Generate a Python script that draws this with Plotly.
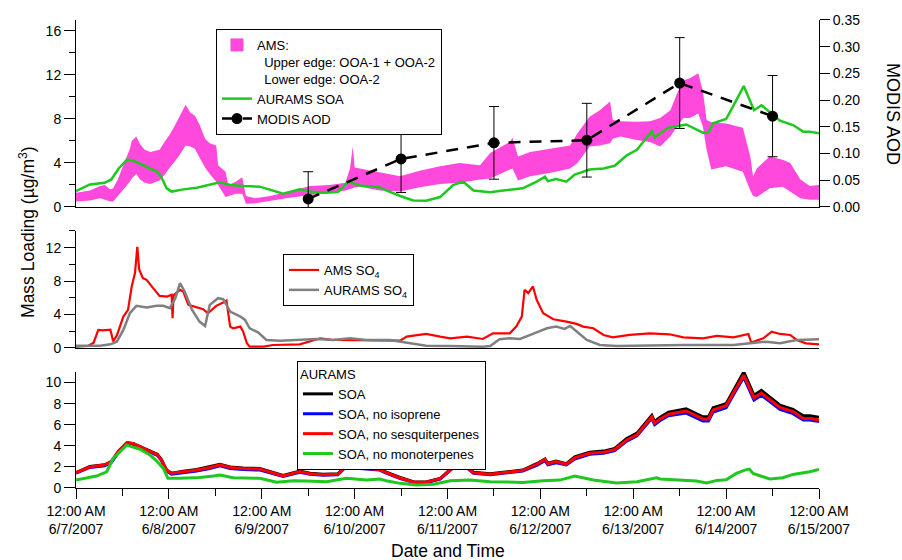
import plotly.graph_objects as go

# ---------------- data ----------------
tick_days = [0, 1, 2, 3, 4, 5, 6, 7, 8]
day_labels = ["6/7/2007", "6/8/2007", "6/9/2007", "6/10/2007", "6/11/2007",
              "6/12/2007", "6/13/2007", "6/14/2007", "6/15/2007"]

# AMS OOA band (days since 6/7/2007 00:00)
ams_day = [0.00, 0.15, 0.26, 0.31, 0.37, 0.40, 0.45, 0.53, 0.58, 0.60, 0.65, 0.69, 0.74, 0.80,
           0.90, 0.96, 1.01, 1.07, 1.12, 1.18, 1.23, 1.28, 1.33, 1.39, 1.44, 1.51, 1.53, 1.61,
           1.64, 1.72, 1.79, 1.83, 1.93, 2.09, 2.30, 2.52, 2.73, 2.90, 2.95, 2.98, 3.00, 3.06,
           3.27, 3.49, 3.70, 3.92, 4.13, 4.29, 4.35, 4.46, 4.67, 4.70, 4.76, 4.89, 5.10, 5.32,
           5.40, 5.53, 5.64, 5.75, 5.78, 5.86, 6.04, 6.18, 6.29, 6.40, 6.47, 6.54, 6.61, 6.70,
           6.75, 6.79, 6.84, 7.00, 7.18, 7.26, 7.29, 7.33, 7.47, 7.61, 7.69, 7.80, 7.90, 8.00]
ams_upper = [1.3, 1.5, 1.9, 2.0, 1.6, 1.7, 2.5, 4.3, 5.3, 6.0, 6.4, 5.7, 5.2, 5.0,
             5.2, 6.0, 6.6, 7.5, 8.3, 9.3, 8.6, 8.3, 7.5, 6.2, 5.8, 5.6, 3.8, 3.2,
             2.0, 2.3, 2.7, 1.0, 0.8, 1.0, 1.4, 1.9, 2.0, 2.2, 3.5, 5.5, 3.6, 3.5,
             3.1, 2.8, 3.3, 3.7, 4.0, 3.9, 3.8, 4.9, 5.9, 6.3, 4.6, 5.0, 5.3, 5.6,
             6.7, 8.2, 8.8, 9.6, 7.9, 7.8, 7.75, 7.8, 8.1, 8.8, 10.3, 11.5, 11.7, 12.15,
             10.5, 7.9, 7.7, 7.6, 7.2, 4.6, 2.8, 3.5, 4.6, 4.3, 4.0, 2.5, 1.9, 2.0]
ams_lower = [0.5, 0.6, 0.8, 0.7, 0.5, 0.5, 1.0, 1.8, 2.3, 2.6, 3.0, 2.5, 2.2, 2.1,
             2.4, 3.0, 3.6, 4.2, 4.8, 5.6, 5.5, 5.3, 4.5, 3.6, 3.0, 2.3, 2.0, 0.9,
             1.0, 1.2, 1.2, 0.3, 0.35, 0.6, 0.85, 1.1, 1.25, 1.5, 1.6, 1.7, 1.8, 1.85,
             1.5, 1.4, 1.8, 2.1, 2.2, 2.4, 2.5, 2.6, 3.4, 3.5, 2.4, 2.8, 3.1, 3.5,
             4.0, 5.5, 5.6, 5.8, 6.2, 6.4, 6.1, 5.9, 5.5, 6.4, 7.3, 8.1, 8.1, 8.5,
             7.3, 5.2, 3.4, 3.7, 3.2, 1.5, 1.0, 0.9, 1.7, 1.85, 1.4, 0.8, 0.65, 0.65]

# AURAMS SOA runs
soa_day = [0.00, 0.15, 0.31, 0.38, 0.46, 0.55, 0.62, 0.72, 0.83, 0.875, 0.92, 0.976, 1.03, 1.155,
           1.30, 1.44, 1.55, 1.66, 1.80, 1.98, 2.09, 2.23, 2.41, 2.52, 2.66, 2.82, 2.93, 3.06,
           3.27, 3.34, 3.49, 3.63, 3.77, 3.92, 4.06, 4.17, 4.28, 4.35, 4.46, 4.60, 4.81, 4.96,
           5.05, 5.08, 5.17, 5.28, 5.37, 5.53, 5.68, 5.80, 5.93, 6.04, 6.20, 6.23, 6.29, 6.38,
           6.57, 6.75, 6.81, 6.86, 7.00, 7.09, 7.19, 7.30, 7.38, 7.58, 7.72, 7.83, 7.90, 8.00]
soa = [1.45, 2.05, 2.2, 2.5, 3.5, 4.3, 4.2, 3.8, 3.35, 3.2, 2.7, 1.7, 1.4, 1.6,
       1.75, 2.0, 2.25, 2.0, 1.9, 1.85, 1.55, 1.2, 1.6, 1.4, 1.3, 1.35, 2.3, 1.95,
       1.8, 1.5, 1.0, 0.6, 0.57, 0.9, 2.0, 2.3, 1.5, 1.45, 1.35, 1.5, 1.7, 2.3,
       2.75, 2.35, 2.55, 2.3, 2.95, 3.4, 3.5, 3.75, 4.7, 5.2, 6.9, 6.3, 6.7, 7.2,
       7.5, 6.75, 6.75, 7.6, 8.0, 9.4, 11.0, 8.8, 9.25, 7.85, 7.45, 6.85, 6.85, 6.7]
soa_no_isoprene = [1.4, 1.95, 2.1, 2.4, 3.4, 4.2, 4.1, 3.7, 3.25, 3.1, 2.6, 1.6, 1.3, 1.45,
                   1.6, 1.85, 2.1, 1.85, 1.75, 1.7, 1.45, 1.1, 1.5, 1.3, 1.2, 1.25, 2.2, 1.85,
                   1.7, 1.4, 0.9, 0.55, 0.5, 0.85, 1.9, 2.2, 1.4, 1.35, 1.25, 1.4, 1.6, 2.15,
                   2.6, 2.2, 2.4, 2.2, 2.75, 3.2, 3.3, 3.55, 4.45, 4.95, 6.6, 6.0, 6.4, 6.85,
                   7.1, 6.35, 6.35, 7.2, 7.6, 9.0, 10.5, 8.35, 8.8, 7.45, 7.05, 6.45, 6.45, 6.3]
soa_no_sesq = [1.45, 2.0, 2.2, 2.5, 3.5, 4.3, 4.2, 3.8, 3.3, 3.15, 2.65, 1.65, 1.4, 1.55,
               1.7, 1.95, 2.2, 1.95, 1.85, 1.8, 1.5, 1.15, 1.55, 1.35, 1.25, 1.3, 2.25, 1.9,
               1.75, 1.45, 0.95, 0.57, 0.55, 0.88, 1.95, 2.25, 1.45, 1.4, 1.3, 1.45, 1.65, 2.25,
               2.7, 2.3, 2.5, 2.25, 2.85, 3.3, 3.4, 3.65, 4.55, 5.05, 6.75, 6.15, 6.55, 7.0,
               7.3, 6.55, 6.55, 7.4, 7.8, 9.2, 10.7, 8.55, 9.0, 7.65, 7.25, 6.6, 6.6, 6.45]
nomono_day = [0.00, 0.115, 0.22, 0.33, 0.40, 0.545, 0.69, 0.80, 0.87, 0.94, 0.99, 1.12, 1.33,
              1.48, 1.55, 1.69, 1.98, 2.16, 2.34, 2.48, 2.70, 2.91, 3.13, 3.27, 3.34, 3.49,
              3.67, 3.85, 4.03, 4.24, 4.46, 4.81, 5.03, 5.21, 5.37, 5.57, 5.82, 6.04, 6.25,
              6.29, 6.47, 6.68, 6.79, 6.90, 7.00, 7.11, 7.20, 7.25, 7.29, 7.47, 7.61, 7.72,
              7.90, 8.00]
soa_no_mono = [0.75, 0.97, 1.13, 1.54, 2.8, 4.06, 3.68, 3.1, 2.55, 1.86, 0.92, 0.92, 1.0,
               1.13, 1.23, 0.97, 0.92, 0.54, 0.69, 0.66, 0.6, 0.92, 0.75, 0.85, 0.69, 0.44,
               0.28, 0.35, 0.69, 0.75, 0.6, 0.53, 0.69, 0.75, 1.13, 0.75, 0.47, 0.6, 0.97,
               0.85, 0.75, 0.66, 0.47, 0.72, 0.78, 1.38, 1.7, 1.79, 1.38, 0.85, 0.97, 1.29,
               1.54, 1.76]

# Sulfate
ams_so4_day = [0.00, 0.13, 0.19, 0.24, 0.29, 0.37, 0.40, 0.44, 0.51, 0.56, 0.60, 0.635, 0.66,
               0.68, 0.72, 0.76, 0.83, 0.90, 0.98, 1.03, 1.04, 1.05, 1.12, 1.155, 1.21, 1.30,
               1.37, 1.42, 1.51, 1.585, 1.62, 1.66, 1.69, 1.77, 1.80, 1.84, 1.87, 2.02, 2.12,
               2.41, 2.55, 2.63, 2.77, 3.13, 3.49, 3.56, 3.77, 3.92, 4.03, 4.21, 4.38, 4.49,
               4.67, 4.74, 4.80, 4.83, 4.87, 4.92, 4.96, 5.03, 5.14, 5.28, 5.39, 5.46, 5.57,
               5.68, 5.78, 5.96, 6.18, 6.39, 6.54, 6.75, 6.90, 7.08, 7.24, 7.27, 7.40, 7.49,
               7.58, 7.69, 7.76, 7.86, 8.00]
ams_so4 = [0.16, 0.24, 0.64, 2.16, 2.1, 2.2, 0.8, 1.5, 3.76, 4.56, 7.36, 8.96, 12.1,
           9.4, 8.36, 8.16, 7.16, 6.24, 6.16, 6.36, 3.56, 6.3, 6.96, 6.76, 5.16, 4.88,
           4.64, 4.16, 5.04, 5.44, 5.68, 2.56, 2.36, 2.56, 1.96, 0.56, 0.16, 0.16, 0.36,
           0.44, 0.88, 1.16, 0.96, 0.96, 0.88, 1.36, 1.68, 1.36, 1.16, 1.36, 1.08, 1.76,
           1.76, 2.56, 3.76, 6.96, 6.56, 7.36, 5.76, 4.16, 3.44, 3.16, 2.88, 2.56, 2.36,
           1.56, 1.28, 1.56, 1.76, 1.64, 1.28, 1.16, 1.44, 1.28, 1.68, 0.64, 1.16, 1.96,
           1.68, 1.56, 0.96, 0.56, 0.44]
aurams_so4_day = [0.00, 0.26, 0.37, 0.44, 0.51, 0.58, 0.65, 0.76, 0.87, 0.94, 1.01, 1.07, 1.12,
                  1.17, 1.25, 1.33, 1.39, 1.44, 1.53, 1.585, 1.66, 1.77, 1.82, 1.87, 1.96, 2.05,
                  2.20, 2.41, 2.59, 2.77, 2.95, 3.13, 3.38, 3.60, 3.77, 4.03, 4.38, 4.46, 4.56,
                  4.67, 4.78, 4.92, 5.07, 5.17, 5.26, 5.32, 5.41, 5.50, 5.64, 5.82, 6.54, 7.08,
                  7.26, 7.43, 7.58, 7.76, 8.00]
aurams_so4 = [0.28, 0.28, 0.44, 0.76, 2.16, 4.16, 5.04, 4.84, 5.04, 5.04, 4.76, 5.96, 7.76,
              6.76, 4.56, 3.16, 2.64, 5.16, 5.96, 5.84, 4.36, 3.76, 3.36, 2.36, 1.88, 0.96,
              0.88, 0.96, 1.08, 0.96, 1.16, 0.96, 0.96, 0.56, 0.28, 0.24, 0.16, 0.24, 1.04,
              1.16, 1.08, 1.68, 2.36, 2.56, 2.28, 2.64, 1.76, 0.96, 0.36, 0.24, 0.36, 0.36,
              0.56, 0.76, 0.56, 0.96, 1.04]

# MODIS AOD
modis_day = [2.5, 3.5, 4.5, 5.5, 6.5, 7.5]
modis_aod = [0.015, 0.090, 0.120, 0.125, 0.232, 0.170]
modis_err = [0.051, 0.063, 0.068, 0.069, 0.085, 0.076]

# ---------------- styling ----------------
FONT = "Liberation Sans, Arial, sans-serif"
PINK = "#ff48dc"
GREEN = "#1ec81e"
NB = "\u00a0"
LEGEND_SIZE = 13

fig = go.Figure()

# Top panel
fig.add_trace(go.Scatter(
    x=ams_day + ams_day[::-1], y=ams_upper + ams_lower[::-1],
    xaxis="x3", yaxis="y", mode="lines", fill="toself", fillcolor=PINK,
    line=dict(width=0, color=PINK), showlegend=False, hoverinfo="skip"))
fig.add_trace(go.Scatter(
    x=[None], y=[None], xaxis="x3", yaxis="y", mode="markers",
    marker=dict(symbol="square", size=13, color=PINK),
    name="AMS:<br>" + NB * 2 + "Upper edge: OOA-1 + OOA-2<br>" + NB * 2 + "Lower edge: OOA-2",
    legend="legend"))
fig.add_trace(go.Scatter(
    x=soa_day, y=soa, xaxis="x3", yaxis="y", mode="lines",
    line=dict(color=GREEN, width=2.5), name="AURAMS SOA", legend="legend"))
fig.add_trace(go.Scatter(
    x=modis_day, y=modis_aod, xaxis="x3", yaxis="y4", mode="lines+markers",
    line=dict(color="black", width=2.5, dash="12px,9px"),
    marker=dict(color="black", size=11),
    error_y=dict(type="data", array=modis_err, color="black", thickness=1, width=5),
    name="MODIS AOD", legend="legend"))

# Middle panel
fig.add_trace(go.Scatter(
    x=ams_so4_day, y=ams_so4, xaxis="x2", yaxis="y2", mode="lines",
    line=dict(color="#ff0000", width=2.2), name="AMS SO<sub>4</sub>", legend="legend2"))
fig.add_trace(go.Scatter(
    x=aurams_so4_day, y=aurams_so4, xaxis="x2", yaxis="y2", mode="lines",
    line=dict(color="#808080", width=2.5), name="AURAMS SO<sub>4</sub>", legend="legend2"))

# Bottom panel
fig.add_trace(go.Scatter(x=soa_day, y=soa, xaxis="x", yaxis="y3", mode="lines",
                         line=dict(color="black", width=3), name="SOA", legend="legend3"))
fig.add_trace(go.Scatter(x=soa_day, y=soa_no_isoprene, xaxis="x", yaxis="y3", mode="lines",
                         line=dict(color="#0000ff", width=3), name="SOA, no isoprene",
                         legend="legend3"))
fig.add_trace(go.Scatter(x=soa_day, y=soa_no_sesq, xaxis="x", yaxis="y3", mode="lines",
                         line=dict(color="#ff0000", width=3), name="SOA, no sesquiterpenes",
                         legend="legend3"))
fig.add_trace(go.Scatter(x=nomono_day, y=soa_no_mono, xaxis="x", yaxis="y3", mode="lines",
                         line=dict(color=GREEN, width=3), name="SOA, no monoterpenes",
                         legend="legend3"))

ticktext = ["12:00 AM<br>" + d for d in day_labels]
common_x = dict(range=[0, 8], showgrid=False, zeroline=False, linecolor="black",
                linewidth=1, showline=True, automargin=False)
common_y = dict(showgrid=False, zeroline=False, showline=True, linecolor="black",
                ticks="outside", tickcolor="black", automargin=False)

legend_common = dict(bgcolor="white", bordercolor="black", borderwidth=1,
                     font=dict(family=FONT, size=LEGEND_SIZE, color="black"),
                     xanchor="left", yanchor="top", traceorder="normal",
                     itemclick=False, itemdoubleclick=False)

fig.update_layout(
    width=902, height=560,
    margin=dict(l=76, r=83, t=10, b=72),
    paper_bgcolor="white", plot_bgcolor="white",
    font=dict(family=FONT, size=14, color="black"),
    xaxis=dict(**common_x, anchor="y3", domain=[0, 1], tickmode="array",
               tickvals=tick_days, ticktext=ticktext, ticks="outside", ticklen=10,
               tickcolor="black", ticklabelstandoff=0,
               minor=dict(dtick=0.5, tick0=0, ticks="outside", ticklen=7,
                          tickcolor="black")),
    xaxis2=dict(**common_x, anchor="y2", domain=[0, 1], showticklabels=False, ticks=""),
    xaxis3=dict(**common_x, anchor="y", domain=[0, 1], showticklabels=False, ticks=""),
    xaxis4=dict(**common_x, anchor="y", overlaying="x3", side="top",
                showticklabels=False, ticks="outside", ticklen=10, tickcolor="black",
                tickmode="linear", tick0=0, dtick=0.5),
    yaxis=dict(**common_y, domain=[0.5879, 0.9791], anchor="x3", range=[0, 17],
               ticklen=11, tick0=0, dtick=4,
               minor=dict(dtick=2, ticks="outside", ticklen=6, tickcolor="black")),
    yaxis4=dict(**common_y, overlaying="y", side="right", anchor="x3", range=[0, 0.35],
                ticklen=10, tick0=0, dtick=0.05, tickformat=".2f"),
    yaxis2=dict(**common_y, domain=[0.2929, 0.5377], anchor="x2", range=[0, 14],
                ticklen=11, tick0=0, dtick=4,
                minor=dict(dtick=2, ticks="outside", ticklen=6, tickcolor="black")),
    yaxis3=dict(**common_y, domain=[0, 0.2427], anchor="x", range=[0, 11],
                ticklen=11, tick0=0, dtick=2),
    legend=dict(**legend_common, x=0.1884, y=0.9603, valign="top"),
    legend2=dict(**legend_common, x=0.2786, y=0.4895),
    legend3=dict(**legend_common, x=0.2974, y=0.2657,
                 title=dict(text="AURAMS",
                            font=dict(family=FONT, size=LEGEND_SIZE, color="black"))),
    showlegend=True,
    annotations=[
        dict(text="Mass Loading (µg/m<sup>3</sup>)", xref="paper", yref="paper",
             x=-0.066, y=0.5356, xanchor="center", yanchor="middle", textangle=-90,
             showarrow=False, font=dict(family=FONT, size=17.5, color="black")),
        dict(text="MODIS AOD", xref="paper", yref="paper", x=1.0996, y=0.7824,
             xanchor="center", yanchor="middle", textangle=90, showarrow=False,
             font=dict(family=FONT, size=18, color="black")),
        dict(text="Date and Time", xref="paper", yref="paper", x=0.5, y=-0.1318,
             xanchor="center", yanchor="middle", showarrow=False,
             font=dict(family=FONT, size=17.5, color="black")),
    ],
)

fig.write_html("out.html")
